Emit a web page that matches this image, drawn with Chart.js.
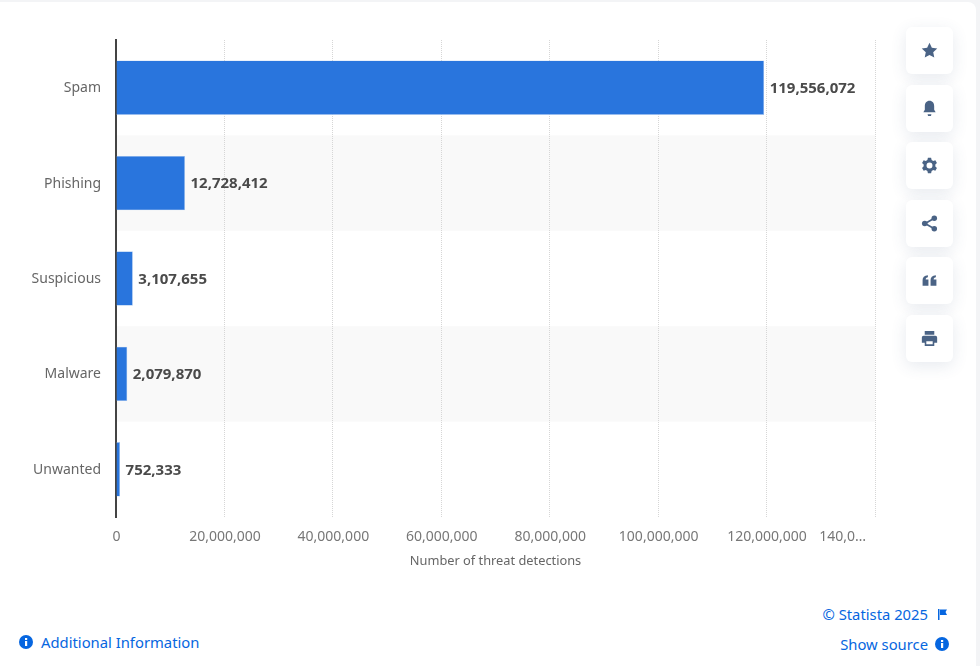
<!DOCTYPE html>
<html>
<head>
<meta charset="utf-8">
<script src="https://cdn.jsdelivr.net/npm/chart.js@4/dist/chart.umd.min.js"></script>
<style>
html, body { margin: 0; padding: 0; width: 980px; height: 666px; overflow: hidden; background: #f3f4f6; font-family: "Noto Sans", sans-serif; }
#card { position: absolute; left: 0; top: 2px; width: 976px; height: 664px; background: #fff; border-top-right-radius: 8px; }
#myChart { position: absolute; left: 0; top: 0; }
.btn { position: absolute; left: 906px; width: 47px; height: 47px; background: #fff; border-radius: 6px; box-shadow: 0 4px 16px rgba(60, 80, 120, .12); display: flex; align-items: center; justify-content: center; }
.btn svg { width: 17px; height: 17px; fill: #4a6385; margin-left: -1px; }
.link { position: absolute; color: #0666e0; font-size: 14.8px; line-height: 20px; white-space: nowrap; }
.ico { position: absolute; width: 14px; height: 14px; }
</style>
</head>
<body>
<div id="card"></div>
<canvas id="myChart" width="980" height="569"></canvas>

<div class="btn" style="top:27px"><svg viewBox="0 0 16 16"><path d="M8 .8l2.2 4.7 5.1.6-3.8 3.5 1 5.1L8 12.2l-4.5 2.5 1-5.1L.7 6.1l5.1-.6z"/></svg></div>
<div class="btn" style="top:85px"><svg viewBox="0 0 16 16"><path d="M8 .8c2.800 0 4.400 2.200 4.400 5v3.400l1.400 2.400H2.200l1.400-2.400V5.800C3.600 3 5.200.8 8 .8zM6.200 13.400h3.600L9.400 15H6.600z"/></svg></div>
<div class="btn" style="top:142px"><svg viewBox="0 0 16 16"><path fill-rule="evenodd" d="M6.500.8h3l.5 2.100 1.500.8 2-.7 1.500 2.600-1.500 1.500v1.800l1.500 1.500-1.500 2.600-2-.7-1.500.8-.5 2.100h-3l-.5-2.100-1.500-.8-2 .7L1 10.300l1.500-1.500V7.100L1 5.600l1.500-2.600 2 .7L6 2.900zM8 5.200a2.800 2.800 0 100 5.600 2.800 2.800 0 000-5.600z"/></svg></div>
<div class="btn" style="top:200px"><svg viewBox="0 0 16 16"><circle cx="12.500" cy="3" r="2.600"/><circle cx="3.500" cy="8" r="2.600"/><circle cx="12.500" cy="13" r="2.600"/><path d="M3.500 7.200l8.600-4.900.8 1.400-8.600 4.900zM4.300 7.300l8.600 4.900-.8 1.400-8.600-4.900z"/></svg></div>
<div class="btn" style="top:257px"><svg viewBox="0 0 16 16"><path d="M1.500 7.500C1.500 5 3 3.300 6.500 3v2C5 5.200 4.500 6 4.400 7h2.600v6H1.500zM9 7.500C9 5 10.500 3.300 14 3v2c-1.500.2-2 1-2.100 2h2.600v6H9z"/></svg></div>
<div class="btn" style="top:315px"><svg viewBox="0 0 16 16"><path d="M3.500 1h9v3.500h-9zM2.500 5.500h11c1 0 1.700.7 1.700 1.700V12h-2.700v3h-9v-3H.8V7.200c0-1 .7-1.700 1.700-1.700zM5 10.500V13.400h6v-2.900z"/></svg></div>

<svg class="ico" style="left:19px;top:635px" viewBox="0 0 14 14"><circle cx="7" cy="7" r="7" fill="#0666e0"/><rect x="6" y="6" width="2.200" height="5" fill="#fff"/><rect x="6" y="3" width="2.200" height="2" fill="#fff"/></svg>
<div class="link" style="left:41px;top:632px">Additional Information</div>
<div class="link" style="right:52px;top:604px">© Statista 2025</div>
<svg class="ico" style="left:938px;top:609px;width:9px;height:11px" viewBox="0 0 9 11"><path d="M0 0h1.500v11H0zM2 .5h7L7.500 3 9 6H2z" fill="#0666e0"/></svg>
<div class="link" style="right:52px;top:634px">Show source</div>
<svg class="ico" style="left:935px;top:637px" viewBox="0 0 14 14"><circle cx="7" cy="7" r="7" fill="#0666e0"/><rect x="6" y="6" width="2.200" height="5" fill="#fff"/><rect x="6" y="3" width="2.200" height="2" fill="#fff"/></svg>

<script>
var categories = ['Spam', 'Phishing', 'Suspicious', 'Malware', 'Unwanted'];
var detections = [119556072, 12728412, 3107655, 2079870, 752333];
var valueLabels = ['119,556,072', '12,728,412', '3,107,655', '2,079,870', '752,333'];
var xTicks = ['0', '20,000,000', '40,000,000', '60,000,000', '80,000,000', '100,000,000', '120,000,000', '140,0…'];
var axisTitle = 'Number of threat detections';

// grey band behind every second category
var stripes = {
    id: 'stripes',
    beforeDraw: function(chart) {
        var ctx = chart.ctx, area = chart.chartArea, y = chart.scales.y;
        var band = y.getPixelForTick(1) - y.getPixelForTick(0);
        ctx.save();
        ctx.fillStyle = '#f9f9f9';
        categories.forEach(function(c, i) {
            if (i % 2 == 1) ctx.fillRect(area.left, y.getPixelForTick(i) - band / 2, area.right - area.left, band);
        });
        ctx.restore();
    }
};

var valueText = {
    id: 'valueText',
    afterDatasetsDraw: function(chart) {
        var ctx = chart.ctx, x = chart.scales.x, y = chart.scales.y;
        ctx.save();
        ctx.font = 'bold 15px "Noto Sans"';
        ctx.fillStyle = '#4a4a4a';
        ctx.textBaseline = 'middle';
        detections.forEach(function(v, i) {
            ctx.fillText(valueLabels[i], x.getPixelForValue(v) + 5.5, y.getPixelForTick(i) + 1);
        });
        ctx.restore();
    }
};

var ctx = document.getElementById('myChart').getContext('2d');
window.myBar = new Chart(ctx, {
    type: 'bar',
    data: {
        labels: categories,
        datasets: [{
            data: detections,
            backgroundColor: '#2975dd',
            borderColor: '#a9c8f0',
            borderWidth: 0.6,
            categoryPercentage: 1,
            barPercentage: 0.57
        }]
    },
    plugins: [stripes, valueText],
    options: {
        indexAxis: 'y',
        responsive: false,
        animation: false,
        layout: { padding: { top: 40, right: 105, left: 0, bottom: 0 } },
        plugins: { legend: { display: false }, tooltip: { enabled: false } },
        scales: {
            x: {
                min: 0,
                max: 140000000,
                afterFit: function(s) { s.height = 52; },
                border: { display: false, dash: [1, 1] },
                grid: {
                    drawTicks: false,
                    color: function(c) { return c.tick && c.tick.value === 0 ? 'rgba(0,0,0,0)' : '#d6d6d6'; }
                },
                ticks: {
                    stepSize: 20000000,
                    autoSkip: false,
                    maxRotation: 0,
                    minRotation: 0,
                    padding: 12,
                    labelOffset: 0.5,
                    color: '#777',
                    font: { family: '"Noto Sans"', size: 14 },
                    callback: function(v, i) {
                        // last label sits left of its grid line in the original
                        return i == xTicks.length - 1 ? xTicks[i] + '\u00a0'.repeat(18) : xTicks[i];
                    }
                },
                title: {
                    display: true,
                    text: axisTitle,
                    color: '#666',
                    padding: { top: 6, bottom: 0 },
                    font: { family: '"Noto Sans"', size: 12.800 }
                }
            },
            y: {
                afterFit: function(s) { s.width = 116; },
                border: { color: '#444', width: 2 },
                grid: { display: false, drawTicks: false },
                ticks: {
                    padding: 15,
                    labelOffset: 0.5,
                    color: '#666',
                    font: { family: '"Noto Sans"', size: 14 }
                }
            }
        }
    }
});
</script>
</body>
</html>
